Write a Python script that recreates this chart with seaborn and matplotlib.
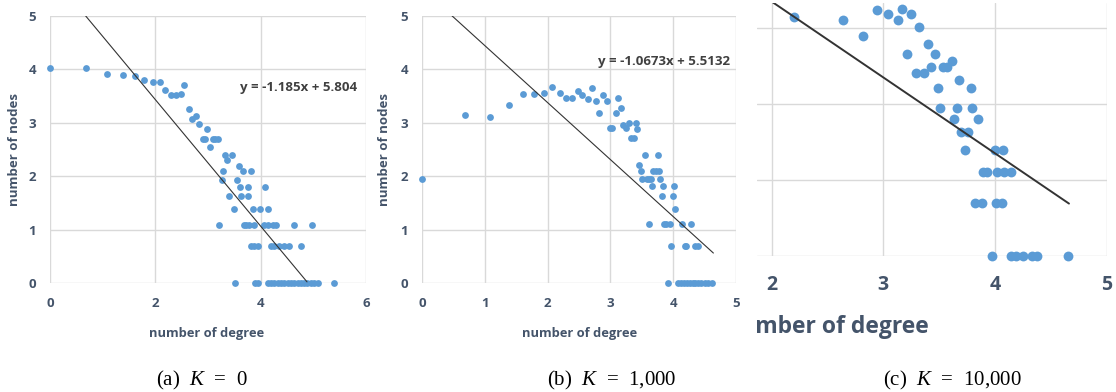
import numpy as np
import pandas as pd
import matplotlib
matplotlib.use("Agg")
import matplotlib.pyplot as plt
import seaborn as sns
from matplotlib.transforms import Bbox, TransformedBbox

# ---- data (ln degree vs ln count) ----
a_x = [0.00, 0.68, 1.09, 1.38, 1.61, 1.79, 1.95, 2.08, 2.18, 2.30, 2.39, 2.48, 2.55,
       2.63, 2.69, 2.77, 2.83, 2.98, 2.90, 2.95, 3.03, 3.09, 3.14, 3.19, 3.21, 3.26,
       3.29, 3.33, 3.37, 3.40, 3.45, 3.50, 3.52, 3.55, 3.58, 3.61, 3.63, 3.66, 3.68,
       3.73, 3.78, 3.75, 3.75, 3.81, 3.81, 3.87, 3.94, 3.85, 3.89, 3.94, 3.87, 3.99,
       4.06, 4.13, 4.23, 4.29, 4.08, 4.13, 4.19, 4.25, 4.35, 4.44, 4.54, 4.63, 4.77,
       4.97, 4.13, 4.19, 4.25, 4.32, 4.38, 4.44, 4.51, 4.57, 4.63, 4.70, 4.76, 4.82,
       4.88, 4.95, 5.01, 5.08, 5.40]
a_y = [4.02, 4.02, 3.91, 3.89, 3.87, 3.80, 3.76, 3.76, 3.61, 3.52, 3.52, 3.54, 3.70,
       3.26, 3.08, 3.13, 2.98, 2.88, 2.70, 2.70, 2.55, 2.70, 2.70, 2.70, 1.09, 1.93,
       2.09, 2.39, 2.30, 1.63, 2.39, 1.38, 0.00, 1.93, 2.20, 1.79, 1.63, 2.09, 1.09,
       1.09, 1.09, 1.79, 1.63, 2.09, 0.69, 0.69, 0.69, 1.38, 0.00, 0.00, 1.09, 1.38,
       1.09, 1.09, 1.09, 1.09, 1.80, 1.38, 0.69, 0.69, 0.69, 0.69, 0.69, 1.09, 0.69,
       1.09, 0.00, 0.00, 0.00, 0.00, 0.00, 0.00, 0.00, 0.00, 0.00, 0.00, 0.00, 0.00,
       0.00, 0.00, 0.00, 0.00, 0.00]

b_x = [0.00, 0.69, 1.09, 1.39, 1.61, 1.78, 1.94, 2.07, 2.19, 2.30, 2.39, 2.48, 2.55,
       2.64, 2.70, 2.77, 2.82, 2.89, 2.95, 2.99, 3.03, 3.09, 3.12, 3.17, 3.20, 3.25,
       3.29, 3.33, 3.37, 3.40, 3.43, 3.46, 3.49, 3.51, 3.55, 3.58, 3.62, 3.65, 3.61,
       3.66, 3.68, 3.72, 3.78, 3.76, 3.79, 3.82, 3.84, 3.85, 3.89, 3.95, 3.92, 3.97,
       3.99, 4.01, 4.03, 4.14, 4.19, 4.21, 4.28, 4.35, 4.39, 4.08, 4.13, 4.17, 4.22,
       4.26, 4.31, 4.35, 4.40, 4.45, 4.50, 4.55, 4.62]
b_y = [1.95, 3.14, 3.11, 3.34, 3.54, 3.54, 3.56, 3.67, 3.56, 3.47, 3.47, 3.60, 3.52,
       3.44, 3.66, 3.41, 3.18, 3.52, 3.41, 2.90, 2.90, 3.18, 3.47, 3.27, 2.96, 2.90,
       3.00, 2.71, 2.71, 3.00, 2.89, 2.21, 2.09, 1.94, 2.40, 1.94, 1.94, 1.94, 1.10,
       1.81, 2.10, 2.10, 2.10, 2.40, 1.94, 1.62, 1.81, 1.10, 1.10, 1.10, 0.00, 0.70,
       1.62, 1.81, 1.38, 1.10, 0.70, 0.70, 1.10, 0.70, 0.70, 0.00, 0.00, 0.00, 0.00,
       0.00, 0.00, 0.00, 0.00, 0.00, 0.00, 0.00, 0.00]

c_x = [2.20, 2.64, 2.82, 2.94, 3.04, 3.13, 3.17, 3.25, 3.21, 3.29, 3.36, 3.32, 3.40,
       3.46, 3.43, 3.53, 3.57, 3.61, 3.68, 3.49, 3.78, 3.51, 3.66, 3.79, 3.63, 3.85,
       3.69, 3.76, 3.73, 4.00, 4.07, 3.89, 3.93, 4.02, 4.08, 4.14, 3.82, 3.88, 4.01,
       4.06, 3.97, 4.14, 4.19, 4.25, 4.33, 4.37, 4.65]
c_y = [3.15, 3.11, 2.90, 3.24, 3.19, 3.11, 3.25, 3.19, 2.66, 2.41, 2.41, 3.01, 2.79,
       2.66, 2.49, 2.49, 2.49, 2.57, 2.32, 2.21, 2.21, 1.95, 1.95, 1.95, 1.80, 1.80,
       1.63, 1.63, 1.39, 1.39, 1.39, 1.10, 1.10, 1.10, 1.10, 1.10, 0.70, 0.70, 0.70,
       0.70, 0.00, 0.00, 0.00, 0.00, 0.00, 0.00, 0.00]

# trend lines: slope, intercept, x range
a_fit = (-1.185, 5.804, 0.0, 4.88)
b_fit = (-1.0673, 5.5132, 0.0, 4.64)
c_fit = (-1.0, 5.35, 1.9, 4.66)

a_eq = "y = -1.185x + 5.804"
b_eq = "y = -1.0673x + 5.5132"
captions = [r"(a)  $K$  =  0", r"(b)  $K$  =  1,000", r"(c)  $K$  =  10,000"]

# ---- style ----
sns.set_style("white")
plt.rcParams["font.family"] = ["Open Sans", "DejaVu Sans"]
plt.rcParams["mathtext.fontset"] = "custom"
plt.rcParams["mathtext.it"] = "Liberation Serif:italic"
plt.rcParams["mathtext.rm"] = "Liberation Serif"

DOT = "#5B9BD5"
TXT = "#44546A"
GRID = "#D9D9D9"
W, H = 1116, 392

fig = plt.figure(figsize=(W / 100, H / 100), dpi=100)


def px_axes(l, r, t, b):
    return fig.add_axes([l / W, 1 - b / H, (r - l) / W, (b - t) / H])


def style(ax, fs, pad):
    for s in ax.spines.values():
        s.set_visible(False)
    ax.grid(True, color=GRID, linewidth=1)
    ax.set_axisbelow(True)
    ax.tick_params(length=0, pad=pad, labelsize=fs, labelcolor=TXT)
    for lab in ax.get_xticklabels() + ax.get_yticklabels():
        lab.set_fontweight("bold")
    ax.set_xlabel("")
    ax.set_ylabel("")


def trend(ax, fit, lw):
    m, c, x0, x1 = fit
    xs = np.linspace(x0, x1, 50)
    sns.lineplot(x=xs, y=m * xs + c, ax=ax, color="#333333", linewidth=lw)


# panel a
ax_a = px_axes(50, 366, 16, 283)
sns.scatterplot(x=a_x, y=a_y, ax=ax_a, color=DOT, s=24, linewidth=0, clip_on=False)
trend(ax_a, a_fit, 0.8)
ax_a.set_xlim(0, 6)
ax_a.set_ylim(0, 5)
ax_a.set_xticks([0, 2, 4, 6])
ax_a.set_yticks(range(6))
style(ax_a, 9.5, 10)
ax_a.text(240 / W, 1 - 87 / H, a_eq, transform=fig.transFigure, fontsize=9.5,
          fontweight="bold", color="#404040", va="center", ha="left")

# panel b
ax_b = px_axes(422, 736, 16, 283)
sns.scatterplot(x=b_x, y=b_y, ax=ax_b, color=DOT, s=24, linewidth=0, clip_on=False)
trend(ax_b, b_fit, 0.8)
ax_b.set_xlim(0, 5)
ax_b.set_ylim(0, 5)
ax_b.set_xticks(range(6))
ax_b.set_yticks(range(6))
style(ax_b, 9.5, 10)
ax_b.text(598 / W, 1 - 61 / H, b_eq, transform=fig.transFigure, fontsize=9.5,
          fontweight="bold", color="#404040", va="center", ha="left")

# panel c (cropped, enlarged view)
ax_c = px_axes(757, 1107, 3, 256)
sns.scatterplot(x=c_x, y=c_y, ax=ax_c, color=DOT, s=50, linewidth=0, clip_on=False)
trend(ax_c, c_fit, 1.4)
ax_c.set_xlim(1.87, 5.0)
ax_c.set_ylim(0, 3.33)
ax_c.set_xticks([2, 3, 4, 5])
ax_c.set_yticks([0, 1, 2, 3])
style(ax_c, 14, 14)
ax_c.set_yticklabels([])

# axis titles
for cx, cy in [(15, 150), (385, 150)]:
    fig.text(cx / W, 1 - cy / H, "number of nodes", rotation=90, fontsize=9.5,
             fontweight="bold", color=TXT, ha="center", va="center")
for cx in [207, 580]:
    fig.text(cx / W, 1 - 333 / H, "number of degree", fontsize=9.3,
             fontweight="bold", color=TXT, ha="center", va="center")
t = fig.text(725 / W, 1 - 327 / H, "number of degree", fontsize=16.5,
             fontweight="bold", color=TXT, ha="left", va="center")
t.set_clip_box(TransformedBbox(Bbox.from_extents(757 / W, 0, 1, 1), fig.transFigure))

# captions
for cx, cap in zip([202, 612, 952], captions):
    fig.text(cx / W, 1 - 380 / H, cap, fontsize=15, color="black",
             family="Liberation Serif", ha="center", va="center")

fig.savefig("out.png", dpi=100)
plt.close(fig)
